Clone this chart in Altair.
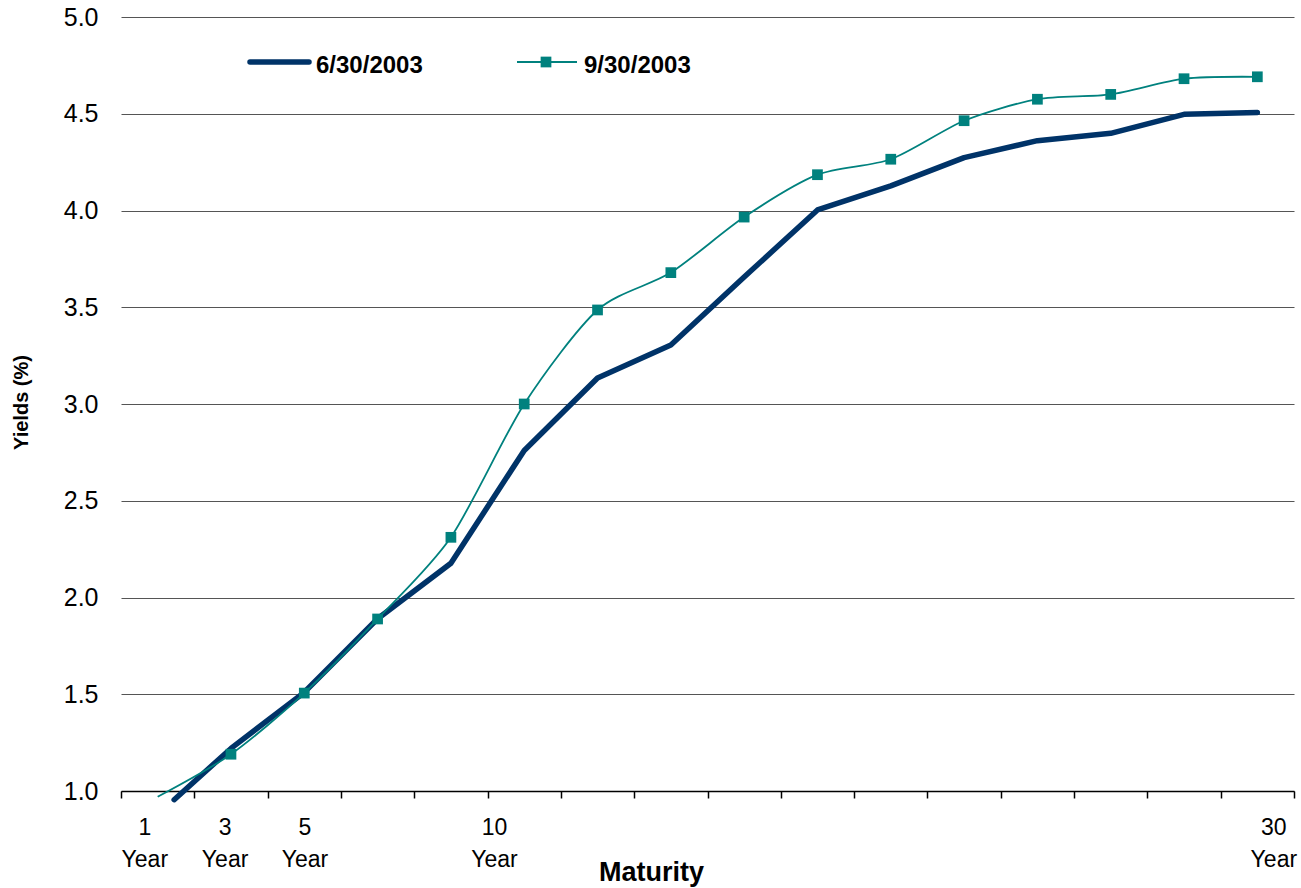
import altair as alt
import pandas as pd

# Maturity positions on a 0-32 index axis (two index units per tenor slot)
jun_pos = [1.45, 3, 5, 7, 9, 11, 13, 15, 17, 19, 21, 23, 25, 27, 29, 31]
jun_yield = [0.955, 1.22, 1.51, 1.89, 2.177, 2.76, 3.134, 3.305, 3.656, 4.003,
             4.127, 4.273, 4.361, 4.399, 4.497, 4.507]

sep_pos = [1, 3, 5, 7, 9, 11, 13, 15, 17, 19, 21, 23, 25, 27, 29, 31]
sep_yield = [0.97, 1.19, 1.506, 1.889, 2.311, 3.0, 3.486, 3.679, 3.966, 4.185,
             4.265, 4.464, 4.575, 4.60, 4.681, 4.691]

# Maturity labels under the axis
label_pos = [0.65, 2.84, 5.02, 10.19, 31.45]
label_num = ["1", "3", "5", "10", "30"]
label_word = ["Year", "Year", "Year", "Year", "Year"]

y_ticks = [1.0, 1.5, 2.0, 2.5, 3.0, 3.5, 4.0, 4.5, 5.0]
x_ticks = list(range(0, 33))

NAVY = "#003368"
TEAL = "#00817E"
FONT = "Liberation Sans, Arial"

jun_df = pd.DataFrame({"x": jun_pos, "y": jun_yield})
sep_df = pd.DataFrame({"x": sep_pos, "y": sep_yield})
lab_df = pd.DataFrame({"x": label_pos, "num": label_num, "word": label_word})

xscale = alt.Scale(domain=[0, 32], nice=False, zero=False)
yscale = alt.Scale(domain=[1, 5], nice=False, zero=False)

x_axis = alt.Axis(
    values=x_ticks, labels=False, grid=False,
    tickSize=7, tickColor="black", tickWidth=1.5,
    domainColor="black", domainWidth=1.5,
    title="Maturity", titleFont=FONT, titleFontSize=27, titleFontWeight="bold",
    titleColor="black", titleX=530, titleY=89, titleAlign="center",
    titleBaseline="alphabetic",
)
y_axis = alt.Axis(
    values=y_ticks, format=".1f", grid=True, gridColor="#555555", gridWidth=1.2,
    domain=False, ticks=False, labelPadding=23, labelFont=FONT,
    labelFontSize=25, labelColor="black",
    title="Yields (%)", titleFont=FONT, titleFontSize=20,
    titleFontWeight="bold", titleColor="black", titleX=-100, titleY=385,
    titleAngle=270, titleAlign="center", titleBaseline="middle",
)

jun_line = alt.Chart(jun_df).mark_line(
    color=NAVY, strokeWidth=5.5, strokeCap="round", strokeJoin="round"
).encode(
    x=alt.X("x:Q", scale=xscale, axis=x_axis),
    y=alt.Y("y:Q", scale=yscale, axis=y_axis),
)

sep_line = alt.Chart(sep_df).mark_line(
    color=TEAL, strokeWidth=1.8, interpolate="cardinal", tension=0.2
).encode(x=alt.X("x:Q", scale=xscale), y=alt.Y("y:Q", scale=yscale))

sep_marks = alt.Chart(sep_df).transform_filter("datum.y >= 1").mark_square(
    color=TEAL, size=115, opacity=1
).encode(x=alt.X("x:Q", scale=xscale), y=alt.Y("y:Q", scale=yscale))

num_text = alt.Chart(lab_df).mark_text(
    font=FONT, fontSize=23, color="black", align="center", baseline="alphabetic"
).encode(x=alt.X("x:Q", scale=xscale), y=alt.value(818), text="num:N")

word_text = alt.Chart(lab_df).mark_text(
    font=FONT, fontSize=23, color="black", align="center", baseline="alphabetic"
).encode(x=alt.X("x:Q", scale=xscale), y=alt.value(850), text="word:N")

# Legend drawn in the upper-left of the plot
one = pd.DataFrame({"k": [0]})
leg_jun_line = alt.Chart(one).mark_rule(
    color=NAVY, strokeWidth=5.5, strokeCap="round"
).encode(x=alt.value(129), x2=alt.value(188), y=alt.value(45))
leg_jun_text = alt.Chart(one).mark_text(
    text="6/30/2003", font=FONT, fontSize=24, fontWeight="bold", color="black",
    align="left", baseline="alphabetic"
).encode(x=alt.value(195), y=alt.value(56))
leg_sep_line = alt.Chart(one).mark_rule(color=TEAL, strokeWidth=1.8).encode(
    x=alt.value(396), x2=alt.value(456), y=alt.value(45)
)
leg_sep_mark = alt.Chart(one).mark_square(color=TEAL, size=115, opacity=1).encode(
    x=alt.value(425), y=alt.value(45)
)
leg_sep_text = alt.Chart(one).mark_text(
    text="9/30/2003", font=FONT, fontSize=24, fontWeight="bold", color="black",
    align="left", baseline="alphabetic"
).encode(x=alt.value(463), y=alt.value(56))

chart = alt.layer(
    jun_line, sep_line, sep_marks, num_text, word_text,
    leg_jun_line, leg_jun_text, leg_sep_line, leg_sep_mark, leg_sep_text,
).properties(
    width=1173, height=774,
    autosize=alt.AutoSizeParams(type="none"),
    padding={"left": 121, "top": 17, "right": 7, "bottom": 97},
    background="white",
).configure(
    font=FONT,
    view=alt.ViewConfig(stroke=None),
    axisY=alt.AxisConfig(domain=False, ticks=False),
    axisX=alt.AxisConfig(grid=False),
)

chart.save("out.html", embed_options={"renderer": "svg", "actions": False})
